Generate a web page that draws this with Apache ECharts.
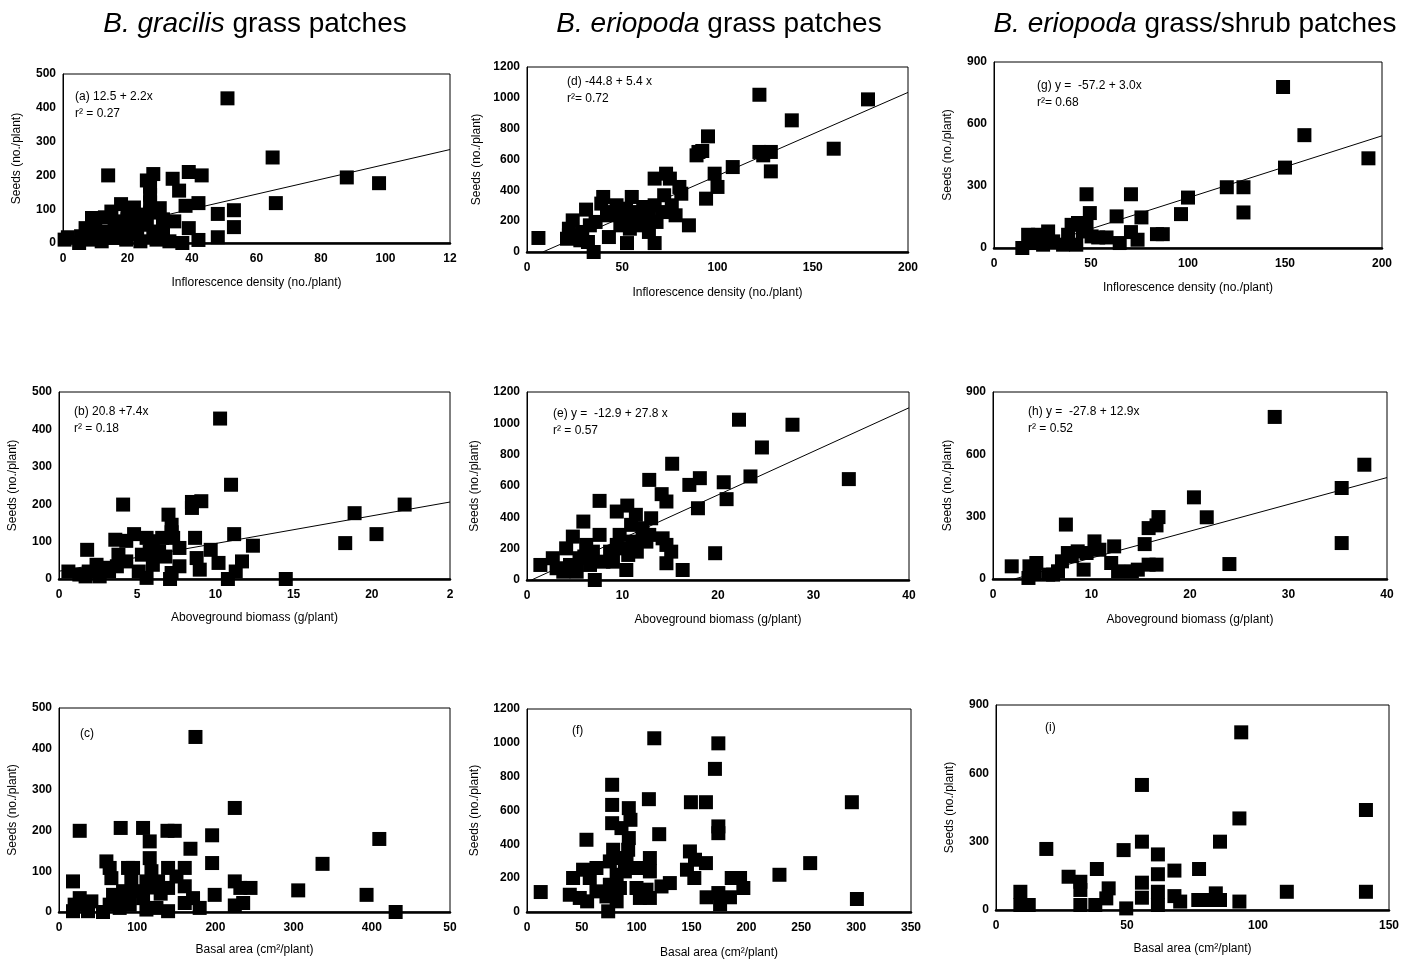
<!DOCTYPE html>
<html>
<head>
<meta charset="utf-8">
<script src="https://cdn.jsdelivr.net/npm/echarts@6/dist/echarts.min.js"></script>
<title>Seeds per plant</title>
</head>
<body style="margin:0;background:#fff;">
<div id="main" style="width:1408px;height:962px;"></div>
<script type="text/javascript">
// seeds (no./plant) vs. plant size
var ptsA = [[51,428],[65,253],[66,118],[88,194],[98,177],[14,200],[28,204],[39,210],[43,200],[34,190],
    [36,155],[27,167],[27,143],[26,185],[27,120],[18,115],[22,105],[30,103],[38,110],[42,118],[48,86],[53,97],
    [53,47],[48,17],[42,9],[39,44],[34.5,64],[31,44],[29,34],[26,54],[24,84],[20,93],[16,64],[15,93],
    [13,76],[9,74],[5.6,20],[1.5,17],[0.5,10],[8,10],[12,5],[5,0],[19.6,10],[21,34],[18,44],[24,5],
    [29,10],[33,5],[37,0],[22,54],[28,20],[14,34],[10,49],[7,44],[20,70],[23,25],[16,15],[11,25],[31,70],[27,90]];
var ptsB = [[10.3,429],[11,252],[4.1,199],[8.5,190],[9.1,208],[8.5,206],[22.1,199],[18.9,176],[20.3,120],
    [18.3,96],[7,172],[7.2,145],[7.2,125],[11.2,120],[12.4,89],[8.7,110],[9.7,78],[10.2,43],[11.7,47],[11.3,20],
    [10.8,0],[14.5,0],[9,25],[8.8,56],[7.7,83],[7.3,110],[6.6,110],[5.9,101],[5.6,110],[4.8,120],[4.3,102],
    [3.6,105],[3.8,65],[4.3,47],[5.3,65],[5.8,74],[6,38],[5.1,20],[5.6,3],[7.2,16],[7.7,34],[1.8,78],
    [2.4,38],[1.9,20],[0.6,20],[1.3,12],[2.6,7],[3.2,20],[3.7,34],[6.4,74],[6,92],[1.7,7],[2.9,30],[6.8,60],[7.1,0]];
var ptsC = [[174.5,429],[224.8,255],[26.5,199],[78.9,206],[107.5,206],[138.7,199],[148,199],[195.8,188],
    [116,173],[168.1,155],[116,132],[409.6,179],[337,118],[195.8,120],[305.9,53],[393.3,42],[430.5,0],
    [244.9,59],[231.9,59],[224.8,75],[235.5,22],[224.8,16],[199.1,42],[179.9,10],[171.4,34],[160.8,22],
    [160.8,63],[160.8,108],[150.2,87],[139.5,108],[139.5,59],[139.5,2],[126.7,75],[118.2,100],[111.8,75],
    [107.5,34],[111.8,6],[124.6,10],[99,51],[94.7,108],[88.3,108],[92.5,83],[81.9,51],[90.4,18],[69.1,42],
    [67,83],[60.6,124],[64.8,108],[64.8,18],[56.3,0],[41.4,26],[37.1,2],[26.5,34],[20,18],[17.9,75],
    [17.9,2],[77.6,10],[75.5,26],[115,60],[130,45]];
var ptsD = [[6,91],[122,1020],[179,990],[139,854],[161,670],[95,750],[90,649],[89,627],[92,655],[122,649],
    [124,627],[128,649],[128,523],[108,551],[98.5,508],[100,422],[94,346],[67,476],[73,508],[75,476],[80,422],
    [81,378],[72,368],[76,303],[78,238],[85,173],[67,303],[64,238],[67,58],[52.5,58],[64,130],[55,357],
    [47,303],[40,357],[39,314],[31,275],[35,0],[24,205],[21,86],[22,108],[29,130],[33,173],[43,97],[36,195],
    [42,238],[50,216],[57,259],[61,292],[54,151],[49,173],[61,195],[68,195],[32,65],[28,76],[45,259],
    [52,281],[22,151],[57,173],[71,259]];
var ptsE = [[22.2,1023],[27.8,991],[24.6,846],[33.7,644],[15.2,742],[12.8,639],[17,607],[18.1,650],
    [20.6,624],[20.9,516],[23.4,661],[17.9,458],[14.1,548],[14.6,501],[7.6,505],[10.5,475],[9.4,437],
    [11.4,416],[13,394],[10.9,352],[12.1,330],[12.8,288],[12.5,245],[14.2,266],[14.6,224],[15.1,181],
    [14.6,107],[16.3,64],[19.7,171],[10.4,64],[7.1,0],[5.9,373],[4.8,277],[4.1,202],[2.7,139],[1.4,96],
    [3.1,75],[4.5,96],[5.5,139],[6.2,224],[7.6,288],[8,117],[9,117],[9.7,288],[10.1,202],[11.1,245],
    [11.5,181],[8.7,181],[6.9,181],[6.6,96],[5.2,53],[3.8,53],[9.4,224],[10.6,160],[6,150]];
var ptsF = [[12.5,118],[116,1027],[174.4,997],[171.3,846],[77.6,752],[77.6,633],[111.1,667],[149.4,649],
    [163.1,649],[296.1,649],[92.8,614],[94.3,545],[77.6,525],[86.1,496],[174.4,506],[174.4,466],[120.5,460],
    [54.2,427],[92.8,437],[92.2,368],[78.5,368],[148.5,358],[153.1,309],[163.1,289],[258.1,289],[230.1,220],
    [194.2,201],[186.6,201],[197.2,142],[145.8,250],[152.5,201],[130.2,171],[122.6,151],[112,319],[112,240],
    [102.9,260],[96.8,260],[90.7,299],[83.1,319],[75.5,299],[63.3,260],[57.2,201],[51.1,250],[42,201],
    [39,102],[48.1,83],[54.8,63],[63.3,122],[72.4,92],[74,4],[81.7,63],[84.7,142],[99.8,142],[102.9,83],
    [112,83],[108.9,132],[163.7,87],[174.4,112],[176,47],[185,87],[300.7,77],[89.2,240],[81.7,220],[75.5,161]];
var ptsG = [[149,779],[160,546],[193,434],[150,389],[120,294],[128.6,294],[128.6,172],[100,244],[96.4,164],
    [47.7,260],[70.6,260],[63.2,153],[76,148],[84,67],[87,67],[70.6,77],[74,40],[64.8,24],[49.4,169],[47.7,121],
    [40,112],[43.3,121],[45.8,80],[50.3,56],[53.7,51],[58,51],[38.2,64],[42.4,16],[35.6,16],[30.5,32],
    [27.9,80],[22.7,64],[17.6,64],[14.6,0],[21,24],[25.3,16],[20.1,48],[26.2,40]];
var ptsH = [[28.6,780],[37.7,550],[35.4,438],[35.4,173],[20.4,393],[21.7,297],[24,72],[7.4,262],[16.8,298],
    [16.6,258],[15.8,245],[15.4,168],[12.3,157],[10.3,181],[10.8,141],[9.5,125],[8.6,133],[7.6,125],[7,85],
    [6.6,37],[6.1,21],[5.6,21],[9.2,45],[12,77],[12.7,37],[14.1,37],[14.7,45],[15.8,69],[16.6,69],[1.9,61],
    [3.6,5],[3.7,61],[4.4,77],[4.2,21],[8,110]];
var ptsI = [[93.6,780],[55.7,549],[141.2,439],[92.9,402],[85.5,300],[55.7,300],[19.2,268],[48.7,263],
    [61.8,244],[38.5,180],[68.1,173],[77.5,180],[61.8,157],[27.7,146],[32.2,124],[32.2,88],[43,95],[55.7,120],
    [55.7,54],[111,80],[141.2,80],[9.3,80],[9.3,22],[12.5,22],[32.2,22],[37.9,22],[42.1,51],[49.7,7],
    [61.8,80],[61.8,22],[68.1,61],[70.3,37],[77.2,44],[81.3,44],[83.9,73],[85.5,44],[92.9,37]];

// regression lines: [intercept, slope, x from, x to]
var fitA = [12.5, 2.2, 0, 120];
var fitB = [20.8, 7.4, 0, 25];
var fitD = [-44.8, 5.4, 8.3, 200];
var fitE = [-12.9, 27.8, 0.46, 40];
var fitG = [-57.2, 3.0, 19.1, 200];
var fitH = [-27.8, 12.9, 2.16, 40];

// last x tick label is cut off in the original
var lastTickA = '12', lastTickB = '2', lastTickC = '50';

var titles = ['B. gracilis', 'B. eriopoda', 'B. eriopoda'];
var titleRest = [' grass patches', ' grass patches', ' grass/shrub patches'];
var notes = {
    a: ['(a) 12.5 + 2.2x', 'r\u00b2 = 0.27'],
    b: ['(b) 20.8 +7.4x', 'r\u00b2 = 0.18'],
    c: ['(c)'],
    d: ['(d) -44.8 + 5.4 x', 'r\u00b2= 0.72'],
    e: ['(e) y =  -12.9 + 27.8 x', 'r\u00b2 = 0.57'],
    f: ['(f)'],
    g: ['(g) y =  -57.2 + 3.0x', 'r\u00b2= 0.68'],
    h: ['(h) y =  -27.8 + 12.9x', 'r\u00b2 = 0.52'],
    i: ['(i)']
};

var FONT = 'Liberation Sans, Arial, sans-serif';

var panels = [
    {k:'a', pts:ptsA, fit:fitA, box:[63,74,387,169], x:[120,20], y:[500,100], last:lastTickA, xName:'Inflorescence density (no./plant)', yGap:40, xGap:34, note:[75,97]},
    {k:'b', pts:ptsB, fit:fitB, box:[59,392,391,187], x:[25,5], y:[500,100], last:lastTickB, xName:'Aboveground biomass (g/plant)', yGap:40, xGap:33, note:[74,412]},
    {k:'c', pts:ptsC, fit:null, box:[59,708,391,204], x:[500,100], y:[500,100], last:lastTickC, xName:'Basal area (cm\u00b2/plant)', yGap:40, xGap:32, note:[80,734]},
    {k:'d', pts:ptsD, fit:fitD, box:[527,67,381,185], x:[200,50], y:[1200,200], xName:'Inflorescence density (no./plant)', yGap:44, xGap:35, note:[567,82]},
    {k:'e', pts:ptsE, fit:fitE, box:[527,392,382,188], x:[40,10], y:[1200,200], xName:'Aboveground biomass (g/plant)', yGap:46, xGap:34, note:[553,414]},
    {k:'f', pts:ptsF, fit:null, box:[527,709,384,203], x:[350,50], y:[1200,200], xName:'Basal area (cm\u00b2/plant)', yGap:46, xGap:35, note:[572,731]},
    {k:'g', pts:ptsG, fit:fitG, box:[994,62,388,186], x:[200,50], y:[900,300], xName:'Inflorescence density (no./plant)', yGap:40, xGap:34, note:[1037,86]},
    {k:'h', pts:ptsH, fit:fitH, box:[993,392,394,187], x:[40,10], y:[900,300], xName:'Aboveground biomass (g/plant)', yGap:39, xGap:35, note:[1028,412]},
    {k:'i', pts:ptsI, fit:null, box:[996,705,393,205], x:[150,50], y:[900,300], xName:'Basal area (cm\u00b2/plant)', yGap:40, xGap:33, note:[1045,728]}
];

var option = {
    backgroundColor: '#fff',
    animation: false,
    title: [],
    grid: [],
    xAxis: [],
    yAxis: [],
    series: [],
    graphic: []
};

var titleX = [250, 714, 1190];
for (var t = 0; t < 3; t++) {
    option.title.push({
        text: '{i|' + titles[t] + '}{n|' + titleRest[t] + '}',
        left: titleX[t],
        top: 5,
        textAlign: 'center',
        textStyle: {
            fontWeight: 'normal',
            rich: {
                i: {fontFamily: FONT, fontSize: 28, fontStyle: 'italic', fontWeight: 'normal', color: '#000'},
                n: {fontFamily: FONT, fontSize: 28, fontWeight: 'normal', color: '#000'}
            }
        }
    });
}

panels.forEach(function (p, idx) {
    option.grid.push({
        left: p.box[0], top: p.box[1], width: p.box[2], height: p.box[3],
        show: true, borderColor: '#000', borderWidth: 1, backgroundColor: 'transparent',
        outerBoundsMode: 'none'
    });
    var xMax = p.x[0];
    var last = p.last;
    option.xAxis.push({
        type: 'value', gridIndex: idx, min: 0, max: xMax, interval: p.x[1],
        name: p.xName, nameLocation: 'middle', nameGap: p.xGap,
        nameTextStyle: {fontFamily: FONT, fontSize: 12, color: '#000'},
        axisLine: {show: true, onZero: false, lineStyle: {color: '#000', width: 2.5}},
        axisTick: {show: false},
        splitLine: {show: false},
        axisLabel: {
            margin: 10, fontFamily: FONT, fontSize: 12, fontWeight: 'bold', color: '#000',
            formatter: function (v) { return (last && v === xMax) ? last : String(v); }
        }
    });
    option.yAxis.push({
        type: 'value', gridIndex: idx, min: 0, max: p.y[0], interval: p.y[1],
        name: 'Seeds (no./plant)', nameLocation: 'middle', nameGap: p.yGap,
        nameTextStyle: {fontFamily: FONT, fontSize: 12, color: '#000'},
        axisLine: {show: true, lineStyle: {color: '#000', width: 1}},
        axisTick: {show: false},
        splitLine: {show: false},
        axisLabel: {
            margin: 7, fontFamily: FONT, fontSize: 12, fontWeight: 'bold', color: '#000',
            formatter: function (v) { return String(v); }
        }
    });
    option.series.push({
        type: 'scatter', xAxisIndex: idx, yAxisIndex: idx,
        data: p.pts, symbol: 'rect', symbolSize: 14,
        itemStyle: {color: '#000', opacity: 1}
    });
    if (p.fit) {
        var f = p.fit;
        option.series.push({
            type: 'line', xAxisIndex: idx, yAxisIndex: idx, z: 3,
            data: [[f[2], f[0] + f[1] * f[2]], [f[3], f[0] + f[1] * f[3]]],
            symbol: 'none', lineStyle: {color: '#000', width: 1}
        });
    }
    var lines = notes[p.k];
    lines.forEach(function (s, li) {
        option.graphic.push({
            type: 'text', x: p.note[0], y: p.note[1] + li * 17, z: 10,
            style: {text: s, fill: '#000', font: '12px ' + FONT, verticalAlign: 'middle'}
        });
    });
});

var myChart = echarts.init(document.getElementById('main'));
myChart.setOption(option);
</script>
</body>
</html>
